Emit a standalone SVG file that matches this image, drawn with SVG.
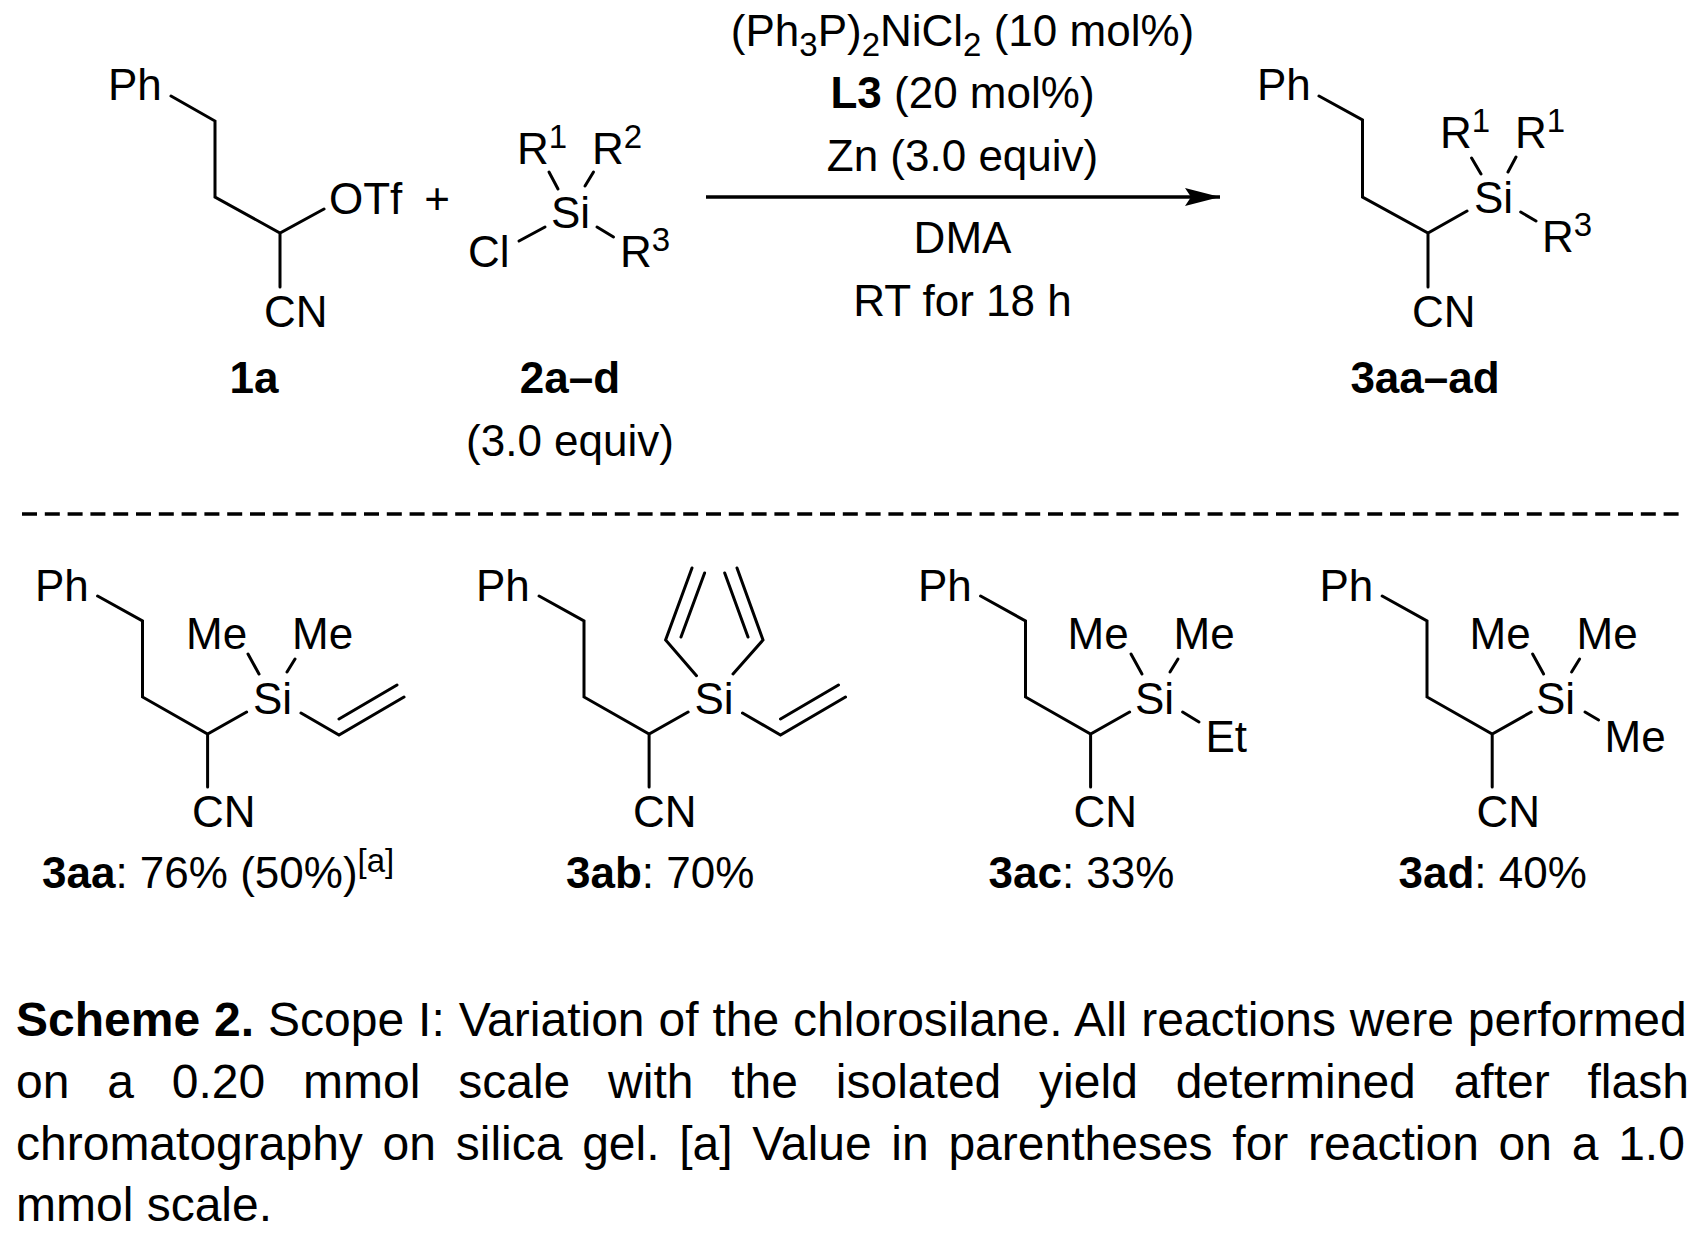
<svg xmlns="http://www.w3.org/2000/svg" width="1705" height="1240" viewBox="0 0 1705 1240">
<style>
text{font-family:"Liberation Sans",Arial,sans-serif;font-size:44px;fill:#000}
.b{font-weight:bold}
.c{text-anchor:middle}
.s{font-size:33px}
.cap{font-size:48px}
.bond{fill:none;stroke:#000;stroke-width:3;stroke-linecap:round;stroke-linejoin:miter}
</style>
<defs>
<marker id="ah" markerUnits="userSpaceOnUse" markerWidth="36" markerHeight="20" refX="35" refY="9.5" orient="auto"><path d="M0 0.5L35 9.5L0 18.5L6 9.5Z" fill="#000"/></marker>
</defs>
<rect width="1705" height="1240" fill="#fff"/>
<g id="connectors">
<path class="bond" d="M171 96L215 121V197L280 233L324 209M280 233V287"/>
<path class="bond" d="M549 172L558 189M593.500 172L585 186M519 241L545 227M597 227L613.500 237"/>
<line x1="706" y1="197" x2="1220" y2="197" stroke="#000" stroke-width="3.500" marker-end="url(#ah)"/>
<path class="bond" d="M1319 96L1362.500 120V197L1428 233L1467 211M1428 233V287"/>
<path class="bond" d="M1471.600 158L1481 174M1516 157L1508 172M1520.700 212L1536 221"/>
<line x1="22" y1="514" x2="1679" y2="514" stroke="#000" stroke-width="3.500" stroke-dasharray="15 7.800"/>
<path class="bond" d="M97.600 596L142.500 621V697L207.600 734L246.600 712M207.600 734V787"/>
<path class="bond" d="M248 654L259 674M295 659L287 672M301 713L339 735L404 697M339 719L397 685"/>
<path class="bond" d="M539.100 596L584 621V697L649.100 734L688.100 712M649.100 734V787"/>
<path class="bond" d="M696.500 675.700L665.600 640L692 568M681 637L704.600 573M733 674L763 640L737 568M748 637L724.700 573M742.500 713L780.500 735L845.500 697M780.500 719L838.500 685"/>
<path class="bond" d="M980.600 596L1025.500 621V697L1090.600 734L1129.600 712M1090.600 734V787"/>
<path class="bond" d="M1131 654L1142 674M1178 659L1170 672M1182.600 712L1199 722"/>
<path class="bond" d="M1382.200 596L1427 621V697L1492.200 734L1531.200 712M1492.200 734V787"/>
<path class="bond" d="M1532.600 654L1543.600 674M1579.600 659L1571.600 672M1585 712L1598.600 720"/>
</g>
<g id="node-1a">
<text x="108" y="100">Ph</text><text x="329" y="214">OTf</text><text x="264" y="327">CN</text>
<text class="b c" x="254" y="393">1a</text>
</g>
<g id="node-plus"><text class="c" x="437" y="214">+</text></g>
<g id="node-2a-d">
<text x="517" y="164">R<tspan class="s" dy="-16">1</tspan></text>
<text x="592" y="164">R<tspan class="s" dy="-16">2</tspan></text>
<text x="551" y="228">Si</text><text x="468" y="267">Cl</text>
<text x="620" y="267">R<tspan class="s" dy="-16">3</tspan></text>
<text class="b c" x="570" y="393">2a–d</text>
<text class="c" x="570" y="456">(3.0 equiv)</text>
</g>
<g id="node-conditions">
<text class="c" x="962.500" y="46">(Ph<tspan class="s" dy="10">3</tspan><tspan dy="-10">P)</tspan><tspan class="s" dy="10">2</tspan><tspan dy="-10">NiCl</tspan><tspan class="s" dy="10">2</tspan><tspan dy="-10"> (10 mol%)</tspan></text>
<text class="c" x="962.500" y="108"><tspan class="b">L3</tspan> (20 mol%)</text>
<text class="c" x="962.500" y="171">Zn (3.0 equiv)</text>
<text class="c" x="962.500" y="253">DMA</text>
<text class="c" x="962.500" y="316">RT for 18 h</text>
</g>
<g id="node-3aa-ad">
<text x="1257" y="100">Ph</text><text x="1474" y="213">Si</text>
<text x="1440" y="148">R<tspan class="s" dy="-16">1</tspan></text>
<text x="1515" y="148">R<tspan class="s" dy="-16">1</tspan></text>
<text x="1542" y="252">R<tspan class="s" dy="-16">3</tspan></text>
<text x="1412" y="327">CN</text>
<text class="b c" x="1425" y="393">3aa–ad</text>
</g>
<g id="node-3aa">
<text x="35" y="601">Ph</text><text x="253" y="714">Si</text><text x="186" y="649">Me</text><text x="292" y="649">Me</text><text x="192" y="827">CN</text>
<text x="42" y="888"><tspan class="b">3aa</tspan>: 76% (50%)<tspan class="s" dy="-16">[a]</tspan></text>
</g>
<g id="node-3ab">
<text x="476" y="601">Ph</text><text x="694.500" y="714">Si</text><text x="633" y="827">CN</text>
<text x="566" y="888"><tspan class="b">3ab</tspan>: 70%</text>
</g>
<g id="node-3ac">
<text x="918" y="601">Ph</text><text x="1135" y="714">Si</text><text x="1067.500" y="649">Me</text><text x="1173.500" y="649">Me</text><text x="1205.500" y="752">Et</text><text x="1073.500" y="827">CN</text>
<text x="988.500" y="888"><tspan class="b">3ac</tspan>: 33%</text>
</g>
<g id="node-3ad">
<text x="1319.500" y="601">Ph</text><text x="1536" y="714">Si</text><text x="1469.500" y="649">Me</text><text x="1576.500" y="649">Me</text><text x="1604.500" y="752">Me</text><text x="1476.500" y="827">CN</text>
<text x="1398.500" y="888"><tspan class="b">3ad</tspan>: 40%</text>
</g>
<g id="caption">
<text class="cap" x="16" y="1036" word-spacing="0.6"><tspan class="b">Scheme 2.</tspan> Scope I: Variation of the chlorosilane. All reactions were performed</text>
<text class="cap" x="16" y="1098" word-spacing="24.5">on a 0.20 mmol scale with the isolated yield determined after flash</text>
<text class="cap" x="16" y="1160" word-spacing="6.4">chromatography on silica gel. [a] Value in parentheses for reaction on a 1.0</text>
<text class="cap" x="16" y="1221">mmol scale.</text>
</g>
</svg>
